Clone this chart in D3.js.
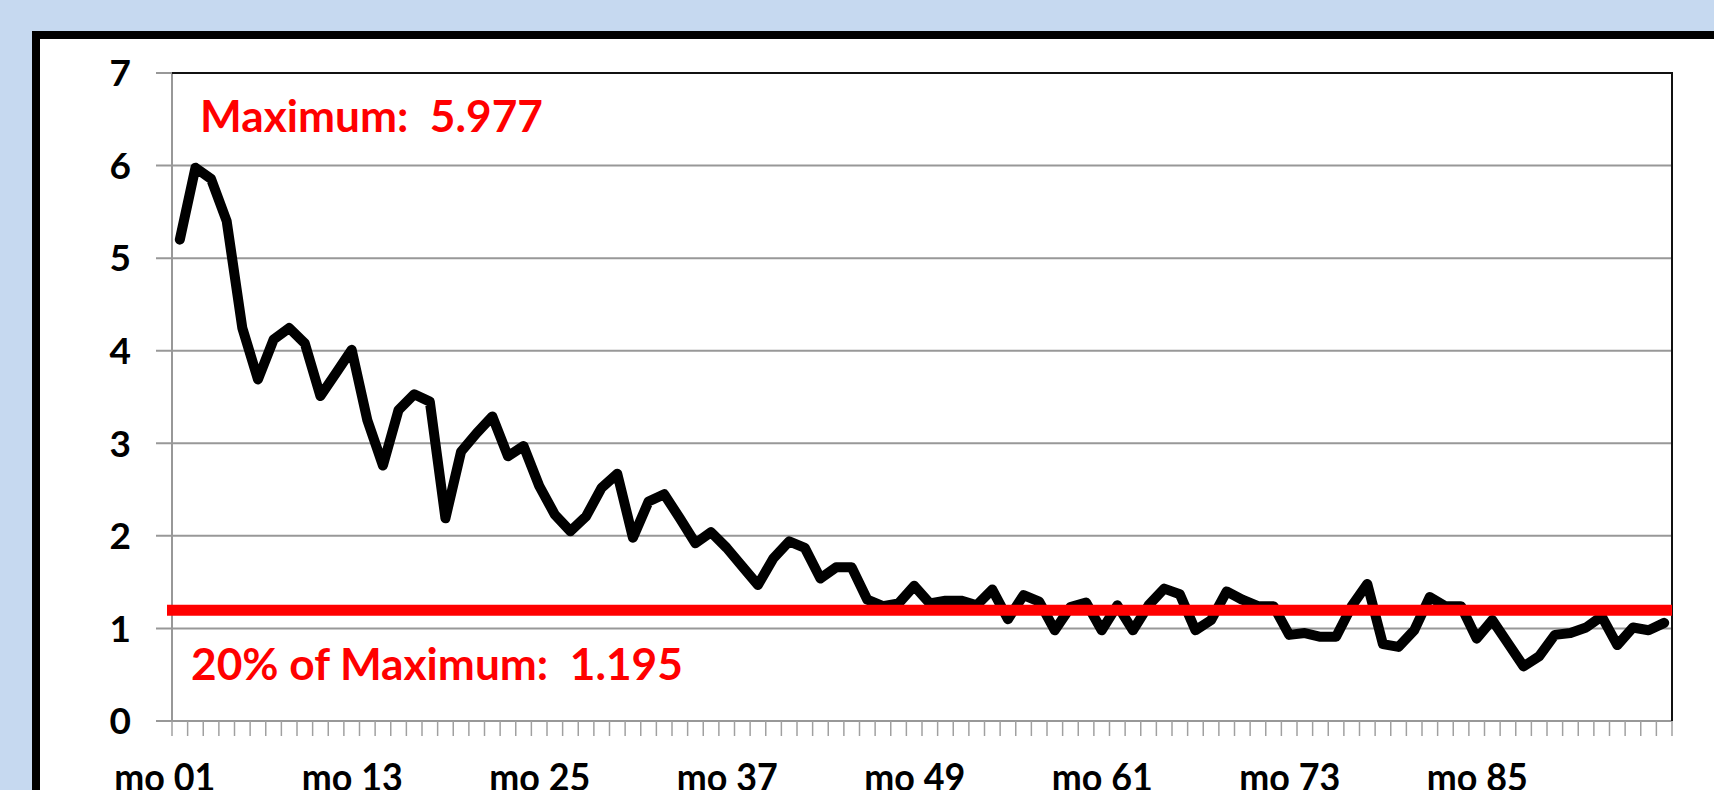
<!DOCTYPE html>
<html>
<head>
<meta charset="utf-8">
<script src="https://cdn.jsdelivr.net/npm/d3@7"></script>
<style>
  html, body { margin: 0; padding: 0; background: #C6D9F0; }
  svg { display: block; }
  text { font-family: Lato, "Open Sans", sans-serif; font-weight: bold; }
</style>
</head>
<body>
<svg id="chart" width="1714" height="790"></svg>
<script>
// ---- data ----
const categories = d3.range(1, 97).map(i => "mo " + String(i).padStart(2, "0"));
const values = [
  5.20, 5.977, 5.856, 5.40, 4.245, 3.69, 4.12, 4.245, 4.08, 3.51, 3.76, 4.01,
  3.25, 2.76, 3.36, 3.53, 3.45, 2.19, 2.91, 3.11, 3.29, 2.86, 2.97, 2.54,
  2.23, 2.05, 2.21, 2.52, 2.67, 1.98, 2.37, 2.45, 2.19, 1.92, 2.04, 1.87,
  1.67, 1.47, 1.76, 1.94, 1.87, 1.54, 1.66, 1.66, 1.31, 1.24, 1.27, 1.46,
  1.27, 1.30, 1.30, 1.25, 1.42, 1.10, 1.36, 1.29, 0.98, 1.23, 1.28, 0.98,
  1.25, 0.98, 1.25, 1.43, 1.37, 0.98, 1.09, 1.40, 1.31, 1.24, 1.24, 0.93,
  0.95, 0.91, 0.91, 1.24, 1.48, 0.83, 0.80, 0.98, 1.34, 1.24, 1.24, 0.89,
  1.09, 0.84, 0.59, 0.70, 0.93, 0.95, 1.01, 1.13, 0.82, 1.01, 0.98, 1.06
];
const xTickLabels = ["mo 01", "mo 13", "mo 25", "mo 37", "mo 49", "mo 61", "mo 73", "mo 85"];
const yTicks = [0, 1, 2, 3, 4, 5, 6, 7];
const thresholdShare = 0.2;

// ---- layout ----
const svg = d3.select("#chart");
const plot = { left: 172, right: 1672, top: 73, bottom: 721 };

// outer chart frame
svg.append("rect")
  .attr("x", 36).attr("y", 35)
  .attr("width", 1800).attr("height", 900)
  .attr("fill", "#ffffff")
  .attr("stroke", "#000000")
  .attr("stroke-width", 8);

const x = d3.scaleBand().domain(categories).range([plot.left, plot.right]).padding(0);
const y = d3.scaleLinear().domain([0, 7]).range([plot.bottom, plot.top]);

// gridlines (with outside tick extension)
svg.append("g")
  .selectAll("line")
  .data(yTicks)
  .join("line")
  .attr("x1", plot.left - 16)
  .attr("x2", plot.right)
  .attr("y1", d => y(d))
  .attr("y2", d => y(d))
  .attr("stroke", "#989898")
  .attr("stroke-width", 2);

// y axis line
svg.append("line")
  .attr("x1", plot.left).attr("x2", plot.left)
  .attr("y1", plot.top).attr("y2", plot.bottom)
  .attr("stroke", "#989898").attr("stroke-width", 2);

// plot border top & right
svg.append("path")
  .attr("d", `M${plot.left},${plot.top}H${plot.right}V${plot.bottom}`)
  .attr("fill", "none")
  .attr("stroke", "#111")
  .attr("stroke-width", 2);

// x ticks between categories
const boundaries = categories.map(c => x(c)).concat([x(categories[categories.length - 1]) + x.bandwidth()]);
svg.append("g")
  .selectAll("line")
  .data(boundaries)
  .join("line")
  .attr("x1", d => d).attr("x2", d => d)
  .attr("y1", plot.bottom).attr("y2", plot.bottom + 15)
  .attr("stroke", "#a0a0a0")
  .attr("stroke-width", 1.5);

// y tick labels
svg.append("g")
  .selectAll("text")
  .data(yTicks)
  .join("text")
  .attr("x", 131)
  .attr("y", d => y(d))
  .attr("dy", "0.36em")
  .attr("text-anchor", "end")
  .attr("font-size", 37)
  .attr("fill", "#000")
  .text(d => d);

// x tick labels (cut by the bottom edge, as in the reference)
svg.append("g")
  .selectAll("text")
  .data(xTickLabels)
  .join("text")
  .attr("transform", d => `translate(${x(d) + x.bandwidth() / 2 - 15},791) scale(0.92,1)`)
  .attr("text-anchor", "middle")
  .attr("font-size", 39)
  .attr("fill", "#000")
  .text(d => d);

// data line
const line = d3.line()
  .x((d, i) => x(categories[i]) + x.bandwidth() / 2)
  .y(d => y(d));
svg.append("path")
  .datum(values)
  .attr("d", line)
  .attr("fill", "none")
  .attr("stroke", "#000")
  .attr("stroke-width", 10)
  .attr("stroke-linejoin", "round")
  .attr("stroke-linecap", "round");

// threshold line
const maxVal = d3.max(values);
const threshold = maxVal * thresholdShare;
svg.append("line")
  .attr("x1", plot.left - 5).attr("x2", plot.right)
  .attr("y1", y(threshold)).attr("y2", y(threshold))
  .attr("stroke", "#FF0000")
  .attr("stroke-width", 11);

// annotations
const fmt = d3.format(".3f");
function fitText(sel, targetWidth) {
  const w = sel.node().getComputedTextLength();
  const fs = parseFloat(sel.attr("font-size"));
  sel.attr("font-size", fs * targetWidth / w);
}
const t1 = svg.append("text")
  .attr("x", 200).attr("y", 132)
  .attr("font-size", 44)
  .attr("fill", "#FF0000")
  .style("white-space", "pre")
  .text("Maximum:  " + fmt(maxVal));
fitText(t1, 343);
const t2 = svg.append("text")
  .attr("x", 191).attr("y", 680)
  .attr("font-size", 44)
  .attr("fill", "#FF0000")
  .style("white-space", "pre")
  .text(Math.round(thresholdShare * 100) + "% of Maximum:  " + fmt(threshold));
fitText(t2, 492);
</script>
</body>
</html>
